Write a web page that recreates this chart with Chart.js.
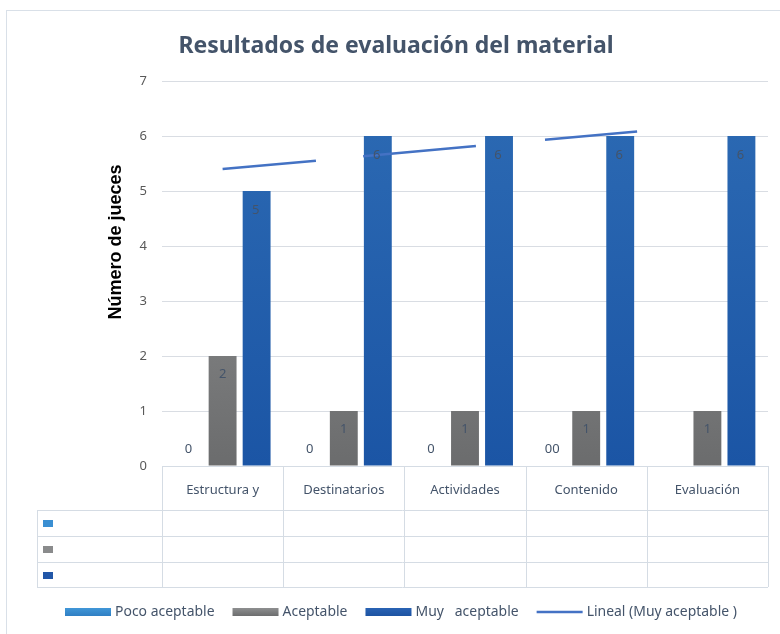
<!DOCTYPE html>
<html>
<head>
<meta charset="utf-8">
<script src="https://cdn.jsdelivr.net/npm/chart.js@4.4.0/dist/chart.umd.min.js"></script>
<style>
  html, body { margin: 0; padding: 0; background: #fff; }
  #wrap { width: 780px; height: 634px; position: relative; }
</style>
</head>
<body>
<div id="wrap"><canvas id="evalChart" width="780" height="634"></canvas></div>
<script>
// ===== Data =====
const categories = ['Estructura y', 'Destinatarios', 'Actividades', 'Contenido', 'Evaluación'];
const pocoAceptable = [0, 0, 0, 0, 0];
const aceptable = [2, 1, 1, 1, 1];
const muyAceptable = [5, 6, 6, 6, 6];
const pocoLabels = ['0', '0', '0', '00', ''];
// trend line pieces as drawn in the picture (category index, value), null = break
const trendX = [0, 0.77, null, 1.16, 2.09, null, 2.66, 3.42];
const trendY = [5.4, 5.55, null, 5.63, 5.82, null, 5.93, 6.08];
const yMin = 0, yMax = 7, yStep = 1;

const TEXT = '#44546a';
const FONT = '"Noto Sans", "Open Sans", sans-serif';

// ===== Gradient fill for bars =====
function fillFor(top, bottom) {
    return function(context) {
        const area = context.chart.chartArea;
        if (!area) return bottom;
        const g = context.chart.ctx.createLinearGradient(0, area.top, 0, area.bottom);
        g.addColorStop(0, top);
        g.addColorStop(1, bottom);
        return g;
    };
}

// bars sit on category index positions of a linear x axis
const byIndex = values => values.map((v, i) => ({ x: i, y: v }));

// ===== Decorations: title, axis title, table, labels, legend =====
const decor = {
    id: 'decor',
    beforeDraw(chart) {
        const ctx = chart.ctx;
        ctx.save();
        ctx.strokeStyle = '#d9e0e8';
        ctx.lineWidth = 1;
        ctx.strokeRect(6.5, 10.5, 800, 700);
        ctx.restore();
    },
    afterDatasetsDraw(chart) {
        const ctx = chart.ctx;
        const base = chart.scales.y.getPixelForValue(0);
        ctx.save();
        ctx.fillStyle = TEXT;
        ctx.font = '13px ' + FONT;
        ctx.textAlign = 'center';
        ctx.textBaseline = 'middle';
        // datasets: 0 = trend line, 1 = poco, 2 = aceptable, 3 = muy aceptable
        chart.getDatasetMeta(1).data.forEach((el, i) => {
            if (pocoLabels[i]) ctx.fillText(pocoLabels[i], el.x, base - 17);
        });
        chart.getDatasetMeta(2).data.forEach((el, i) => {
            ctx.fillText(String(aceptable[i]), el.x, el.y + 18);
        });
        chart.getDatasetMeta(3).data.forEach((el, i) => {
            ctx.fillText(String(muyAceptable[i]), el.x - 1, el.y + 19);
        });
        ctx.restore();
    },
    afterDraw(chart) {
        const ctx = chart.ctx;
        const area = chart.chartArea;
        const n = categories.length;
        const colW = (area.right - area.left) / n;
        ctx.save();

        // title
        ctx.fillStyle = TEXT;
        ctx.font = 'bold 23px ' + FONT;
        ctx.textAlign = 'center';
        ctx.textBaseline = 'alphabetic';
        ctx.fillText('Resultados de evaluación del material', 396, 53, 446);

        // y axis title
        ctx.save();
        ctx.translate(116, 242);
        ctx.rotate(-Math.PI / 2);
        ctx.fillStyle = '#000';
        ctx.font = 'bold 18px "Liberation Sans", Arial, sans-serif';
        ctx.textBaseline = 'middle';
        ctx.fillText('Número de jueces', 0, 0);
        ctx.restore();

        // data table under the plot
        const top = area.bottom;
        const rows = [510, 536, 562, 587];
        const tLeft = 37;
        ctx.strokeStyle = '#d5dce4';
        ctx.lineWidth = 1;
        ctx.beginPath();
        ctx.moveTo(area.left, top + 0.5);
        ctx.lineTo(area.right, top + 0.5);
        rows.forEach(r => {
            ctx.moveTo(tLeft, r + 0.5);
            ctx.lineTo(area.right, r + 0.5);
        });
        for (let i = 0; i <= n; i++) {
            const x = Math.round(area.left + i * colW) + 0.5;
            ctx.moveTo(x, top);
            ctx.lineTo(x, rows[rows.length - 1]);
        }
        ctx.moveTo(tLeft + 0.5, rows[0]);
        ctx.lineTo(tLeft + 0.5, rows[rows.length - 1]);
        ctx.stroke();

        ctx.fillStyle = TEXT;
        ctx.font = '13px ' + FONT;
        ctx.textBaseline = 'middle';
        categories.forEach((c, i) => {
            ctx.fillText(c, chart.scales.x.getPixelForValue(i), 490);
        });

        ['#3a8fd2', '#8a8b8c', '#2257a8'].forEach((col, i) => {
            ctx.fillStyle = col;
            ctx.fillRect(43, rows[i] + 10, 10, 7);
        });

        // legend
        const items = [
            { text: 'Poco aceptable', kind: 'box', c1: '#4197d8', c2: '#2f7fc4' },
            { text: 'Aceptable', kind: 'box', c1: '#8e8f90', c2: '#6c6d6e' },
            { text: 'Muy   aceptable', kind: 'box', c1: '#2a63b4', c2: '#1d53a2' },
            { text: 'Lineal (Muy aceptable )', kind: 'line', c1: '#4472c4' }
        ];
        ctx.font = '15px ' + FONT;
        ctx.textAlign = 'left';
        const ly = 612;
        let x = 65;
        items.forEach(it => {
            if (it.kind === 'box') {
                const g = ctx.createLinearGradient(0, ly - 4, 0, ly + 4);
                g.addColorStop(0, it.c1);
                g.addColorStop(1, it.c2);
                ctx.fillStyle = g;
                ctx.fillRect(x, ly - 4, 46, 8);
            } else {
                ctx.strokeStyle = it.c1;
                ctx.lineWidth = 2.5;
                ctx.beginPath();
                ctx.moveTo(x, ly);
                ctx.lineTo(x + 46, ly);
                ctx.stroke();
            }
            const w = ctx.measureText(it.text).width * 0.93;
            ctx.fillStyle = TEXT;
            ctx.fillText(it.text, x + 50, ly, w);
            x += 50 + w + 18;
        });
        ctx.restore();
    }
};

// ===== Chart =====
function initChart() {
    const el = document.getElementById('evalChart');
    const trendPoints = trendX.map((v, i) => ({ x: v === null ? trendX[i - 1] : v, y: trendY[i] }));

    new Chart(el, {
        type: 'bar',
        data: {
            datasets: [
                {
                    type: 'line',
                    label: 'Lineal (Muy aceptable )',
                    data: trendPoints,
                    borderColor: '#4472c4',
                    borderWidth: 2.5,
                    pointRadius: 0,
                    spanGaps: false
                },
                {
                    label: 'Poco aceptable',
                    data: byIndex(pocoAceptable),
                    backgroundColor: fillFor('#4197d8', '#2f7fc4')
                },
                {
                    label: 'Aceptable',
                    data: byIndex(aceptable),
                    backgroundColor: fillFor('#9c9d9e', '#6b6c6d')
                },
                {
                    label: 'Muy aceptable',
                    data: byIndex(muyAceptable),
                    backgroundColor: fillFor('#2d6bb4', '#1b55a5')
                }
            ]
        },
        options: {
            responsive: false,
            animation: false,
            layout: { padding: { top: 81, right: 12, bottom: 47, left: 0 } },
            datasets: {
                bar: { barPercentage: 0.82, categoryPercentage: 0.842 }
            },
            plugins: {
                legend: { display: false },
                title: { display: false },
                tooltip: { enabled: false }
            },
            scales: {
                x: {
                    type: 'linear',
                    offset: false,
                    min: -0.5,
                    max: categories.length - 0.5,
                    grid: { display: false },
                    border: { display: false },
                    ticks: { display: false },
                    afterBuildTicks(scale) {
                        scale.ticks = categories.map((c, i) => ({ value: i }));
                    },
                    afterFit(scale) { scale.height = 121; }
                },
                y: {
                    min: yMin,
                    max: yMax,
                    grid: { color: '#d9dde3', drawTicks: false },
                    border: { display: false },
                    ticks: {
                        stepSize: yStep,
                        padding: 15,
                        color: '#595959',
                        font: { family: FONT, size: 13 }
                    },
                    afterFit(scale) { scale.width = 162; }
                }
            }
        },
        plugins: [decor]
    });
}

document.addEventListener('DOMContentLoaded', initChart);
</script>
</body>
</html>
